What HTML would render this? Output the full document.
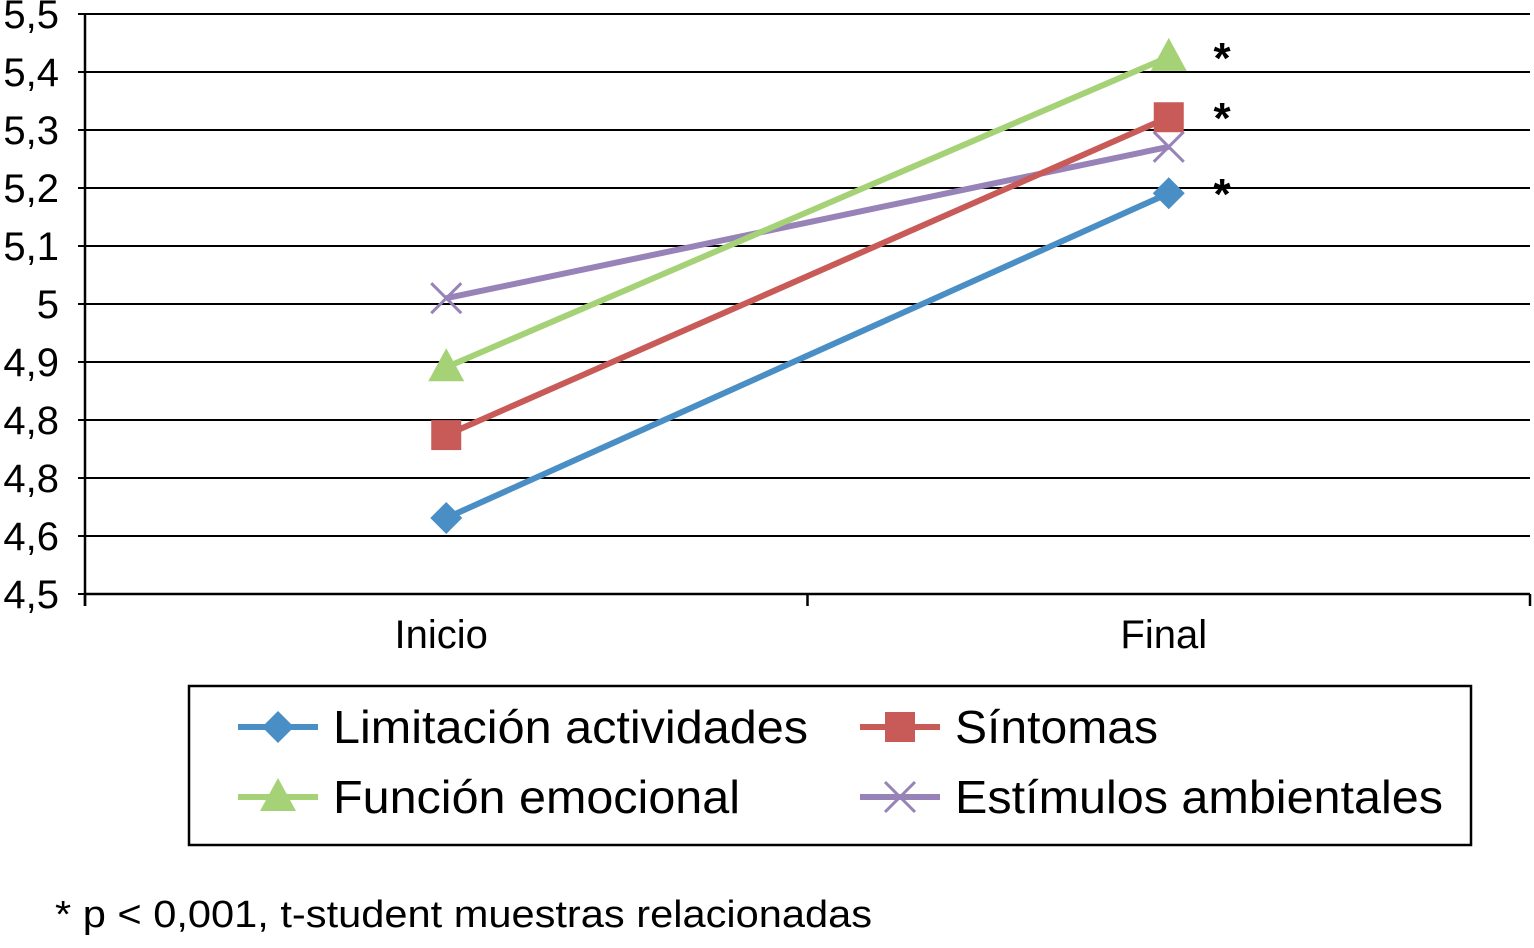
<!DOCTYPE html>
<html><head><meta charset="utf-8"><style>
body{margin:0;background:#fff;}
svg{display:block;font-family:"Liberation Sans",Arial,sans-serif;}
</style></head><body>
<svg id="chart" width="1534" height="948"></svg>
<script>
const categories=["Inicio","Final"];
const yTickLabels=["5,5","5,4","5,3","5,2","5,1","5","4,9","4,8","4,8","4,6","4,5"];
const limitacion=[4.631,5.191];
const sintomas=[4.774,5.322];
const emocional=[4.891,5.426];
const estimulos=[5.010,5.271];
const seriesNames=["Limitación actividades","Síntomas","Función emocional","Estímulos ambientales"];

const NS="http://www.w3.org/2000/svg";
const svg=document.getElementById('chart');
const X0=85,X1=1530,Y0=14,Y1=594,YMIN=4.5,YMAX=5.5;
function yS(v){return Y1-(v-YMIN)/(YMAX-YMIN)*(Y1-Y0);}
function xS(i){const w=(X1-X0)/categories.length;return X0+w*(i+0.5);}
function el(t,a,p){const e=document.createElementNS(NS,t);for(const k in a)e.setAttribute(k,a[k]);(p||svg).appendChild(e);return e;}

yTickLabels.forEach((lab,i)=>{
  const v=YMAX-i*(YMAX-YMIN)/(yTickLabels.length-1);
  const y=yS(v);
  const g=el('line',{x1:X0-7,x2:X1,y1:y,y2:y,stroke:'#000','stroke-width':2});
  
  
  const t=el('text',{x:59,y:y+14,'text-anchor':'end','font-size':40});
  t.textContent=lab;
  
  
});
const ya=el('line',{x1:X0,x2:X0,y1:Y0,y2:Y1+12,stroke:'#000','stroke-width':2.5});


const xa=el('line',{x1:X0,x2:X1,y1:Y1,y2:Y1,stroke:'#000','stroke-width':2.5});


for(let i=0;i<=categories.length;i++){
  const x=X0+(X1-X0)/categories.length*i;
  const tk=el('line',{x1:x,x2:x,y1:Y1,y2:Y1+12,stroke:'#000','stroke-width':2.5});
  
  
}
categories.forEach((c,i)=>{
  const t=el('text',{x:xS(i)-5,y:648,'text-anchor':'middle','font-size':40});
  t.textContent=c;
  
  
});

function marker(type,x,y,color,parent){
  let m;
  if(type==='diamond') m=el('polygon',{points:`${x},${y-16} ${x+16},${y} ${x},${y+16} ${x-16},${y}`,fill:color},parent);
  else if(type==='square') m=el('rect',{x:x-15,y:y-15,width:30,height:30,fill:color},parent);
  else if(type==='triangle') m=el('polygon',{points:`${x},${y-19} ${x+18},${y+14} ${x-18},${y+14}`,fill:color},parent);
  else {m=el('path',{d:`M${x-15},${y-15}L${x+15},${y+15}M${x+15},${y-15}L${x-15},${y+15}`,stroke:color,'stroke-width':3,fill:'none'},parent);}
  return m;
}
const series=[
 {vals:limitacion,color:'#4a8ec6',m:'diamond'},
 {vals:sintomas,color:'#c85a57',m:'square'},
 {vals:emocional,color:'#a6d277',m:'triangle'},
 {vals:estimulos,color:'#9883b8',m:'x'}];
[3,2,1,0].forEach(si=>{
  const s=series[si];
  const g=el('g',{});
  
  
  el('polyline',{points:s.vals.map((v,i)=>xS(i)+','+yS(v)).join(' '),fill:'none',stroke:s.color,'stroke-width':6},g);
  s.vals.forEach((v,i)=>{
    const m=marker(s.m,xS(i),yS(v),s.color,g);
    
    
  });
});
[emocional,sintomas,limitacion].forEach(arr=>{
  const t=el('text',{x:1222,y:yS(arr[1])+16,'text-anchor':'middle','font-size':44,'font-weight':'bold'});
  t.textContent='*';
  
  
});

const lg=el('g',{});


el('rect',{x:189,y:686,width:1282,height:159,fill:'none',stroke:'#000','stroke-width':2.5},lg);
const pos=[[238,727],[860,727],[238,797],[860,797]];
const widths=[475,203,407,488];
[0,1,2,3].forEach(i=>{
  const [x,y]=pos[i];const s=series[i];
  const e=el('g',{},lg);
  
  
  el('line',{x1:x,x2:x+80,y1:y,y2:y,stroke:s.color,'stroke-width':6},e);
  marker(s.m,x+40,y,s.color,e);
  const t=el('text',{x:x+95,y:y+16,'font-size':46,textLength:widths[i],lengthAdjust:'spacingAndGlyphs'},e);
  t.textContent=seriesNames[i];
});
const fn=el('text',{x:55,y:927,'font-size':38,textLength:817,lengthAdjust:'spacingAndGlyphs'});
fn.textContent='* p < 0,001, t-student muestras relacionadas';


</script>
</body></html>
